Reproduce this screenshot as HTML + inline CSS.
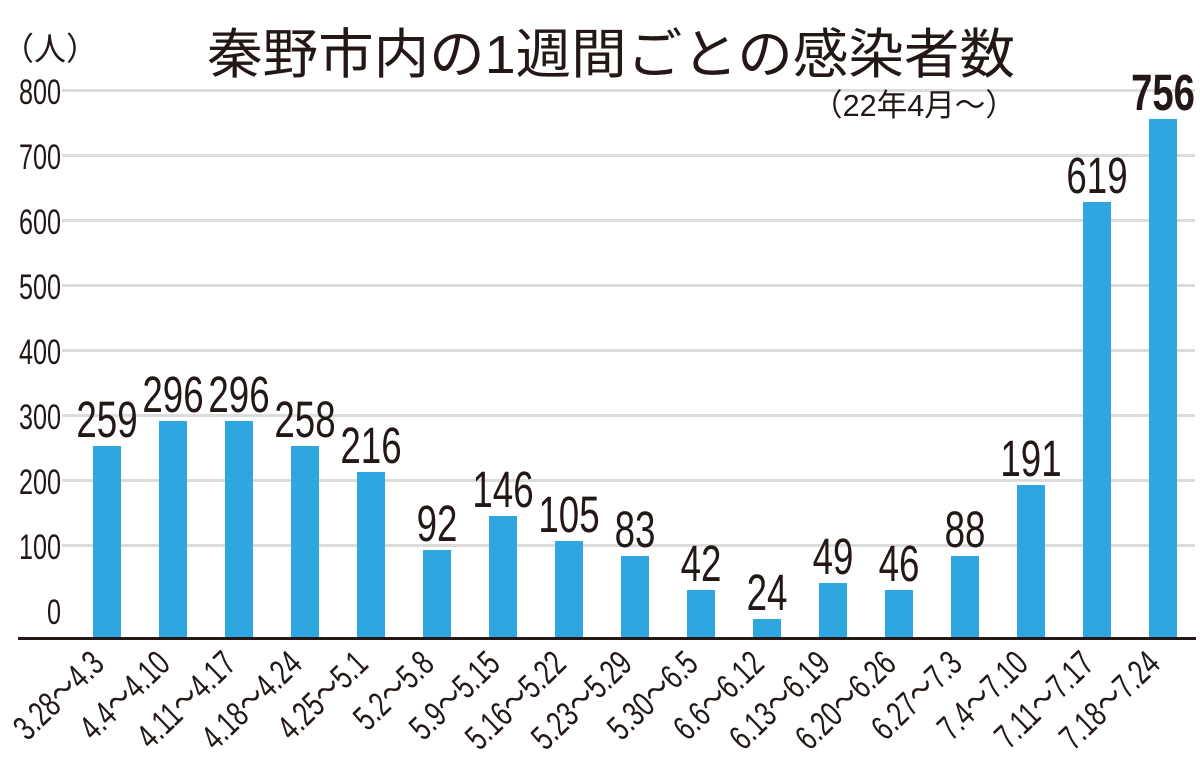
<!DOCTYPE html>
<html><head><meta charset="utf-8"><style>
body{margin:0;background:#fff}
svg{display:block}
text{font-family:"Liberation Sans","Noto Sans CJK JP",sans-serif;fill:#231815}
</style></head><body>
<svg width="1200" height="762" viewBox="0 0 1200 762" xmlns="http://www.w3.org/2000/svg">
<rect width="1200" height="762" fill="#fff"/>
<g stroke="#dcdcdc" stroke-width="3">
<line x1="62" x2="1195" y1="90.5" y2="90.5"/>
<line x1="62" x2="1195" y1="155.5" y2="155.5"/>
<line x1="62" x2="1195" y1="220.5" y2="220.5"/>
<line x1="62" x2="1195" y1="285.5" y2="285.5"/>
<line x1="62" x2="1195" y1="350.5" y2="350.5"/>
<line x1="62" x2="1195" y1="415.5" y2="415.5"/>
<line x1="62" x2="1195" y1="480.5" y2="480.5"/>
<line x1="62" x2="1195" y1="545.5" y2="545.5"/>
</g>
<g font-size="35" text-anchor="end">
<text transform="translate(61 104) scale(0.72 1)">800</text>
<text transform="translate(61 169) scale(0.72 1)">700</text>
<text transform="translate(61 234) scale(0.72 1)">600</text>
<text transform="translate(61 299) scale(0.72 1)">500</text>
<text transform="translate(61 364) scale(0.72 1)">400</text>
<text transform="translate(61 429) scale(0.72 1)">300</text>
<text transform="translate(61 494) scale(0.72 1)">200</text>
<text transform="translate(61 559) scale(0.72 1)">100</text>
<text transform="translate(61 624) scale(0.72 1)">0</text>
</g>
<text x="2" y="60" font-size="32">（人）</text>
<text x="207" y="73" font-size="54" textLength="808" lengthAdjust="spacingAndGlyphs">秦野市内の1週間ごとの感染者数</text>
<text x="812" y="116" font-size="31" textLength="204" lengthAdjust="spacingAndGlyphs">（22年4月～）</text>
<g fill="#2fa6e0">
<rect x="93" y="446" width="28" height="193"/>
<rect x="159" y="421" width="28" height="218"/>
<rect x="225" y="421" width="28" height="218"/>
<rect x="291" y="446" width="28" height="193"/>
<rect x="357" y="472" width="28" height="167"/>
<rect x="423" y="550" width="28" height="89"/>
<rect x="489" y="516" width="28" height="123"/>
<rect x="555" y="541" width="28" height="98"/>
<rect x="621" y="556" width="28" height="83"/>
<rect x="687" y="590" width="28" height="49"/>
<rect x="753" y="619" width="28" height="20"/>
<rect x="819" y="583" width="28" height="56"/>
<rect x="885" y="590" width="28" height="49"/>
<rect x="951" y="556" width="28" height="83"/>
<rect x="1017" y="485" width="28" height="154"/>
<rect x="1083" y="202" width="28" height="437"/>
<rect x="1149" y="119" width="28" height="520"/>
</g>
<line x1="18" x2="1196" y1="638.5" y2="638.5" stroke="#231815" stroke-width="3"/>
<g font-size="51" text-anchor="middle">
<text transform="translate(107 437) scale(0.72 1)">259</text>
<text transform="translate(173 412) scale(0.72 1)">296</text>
<text transform="translate(239 412) scale(0.72 1)">296</text>
<text transform="translate(305 437) scale(0.72 1)">258</text>
<text transform="translate(371 463) scale(0.72 1)">216</text>
<text transform="translate(437 541) scale(0.72 1)">92</text>
<text transform="translate(503 507) scale(0.72 1)">146</text>
<text transform="translate(569 532) scale(0.72 1)">105</text>
<text transform="translate(635 547) scale(0.72 1)">83</text>
<text transform="translate(701 581) scale(0.72 1)">42</text>
<text transform="translate(767 610) scale(0.72 1)">24</text>
<text transform="translate(833 574) scale(0.72 1)">49</text>
<text transform="translate(899 581) scale(0.72 1)">46</text>
<text transform="translate(965 547) scale(0.72 1)">88</text>
<text transform="translate(1031 476) scale(0.72 1)">191</text>
<text transform="translate(1097 193) scale(0.72 1)">619</text>
<text transform="translate(1163 110) scale(0.75 1)" font-weight="bold">756</text>
</g>
<g font-size="35" text-anchor="end">
<text transform="translate(106 666) rotate(-44) scale(0.72 1)">3.28～4.3</text>
<text transform="translate(172 666) rotate(-44) scale(0.72 1)">4.4～4.10</text>
<text transform="translate(238 666) rotate(-44) scale(0.72 1)">4.11～4.17</text>
<text transform="translate(304 666) rotate(-44) scale(0.72 1)">4.18～4.24</text>
<text transform="translate(370 666) rotate(-44) scale(0.72 1)">4.25～5.1</text>
<text transform="translate(436 666) rotate(-44) scale(0.72 1)">5.2～5.8</text>
<text transform="translate(502 666) rotate(-44) scale(0.72 1)">5.9～5.15</text>
<text transform="translate(568 666) rotate(-44) scale(0.72 1)">5.16～5.22</text>
<text transform="translate(634 666) rotate(-44) scale(0.72 1)">5.23～5.29</text>
<text transform="translate(700 666) rotate(-44) scale(0.72 1)">5.30～6.5</text>
<text transform="translate(766 666) rotate(-44) scale(0.72 1)">6.6～6.12</text>
<text transform="translate(832 666) rotate(-44) scale(0.72 1)">6.13～6.19</text>
<text transform="translate(898 666) rotate(-44) scale(0.72 1)">6.20～6.26</text>
<text transform="translate(964 666) rotate(-44) scale(0.72 1)">6.27～7.3</text>
<text transform="translate(1030 666) rotate(-44) scale(0.72 1)">7.4～7.10</text>
<text transform="translate(1096 666) rotate(-44) scale(0.72 1)">7.11～7.17</text>
<text transform="translate(1162 666) rotate(-44) scale(0.72 1)">7.18～7.24</text>
</g>
</svg>
</body></html>
